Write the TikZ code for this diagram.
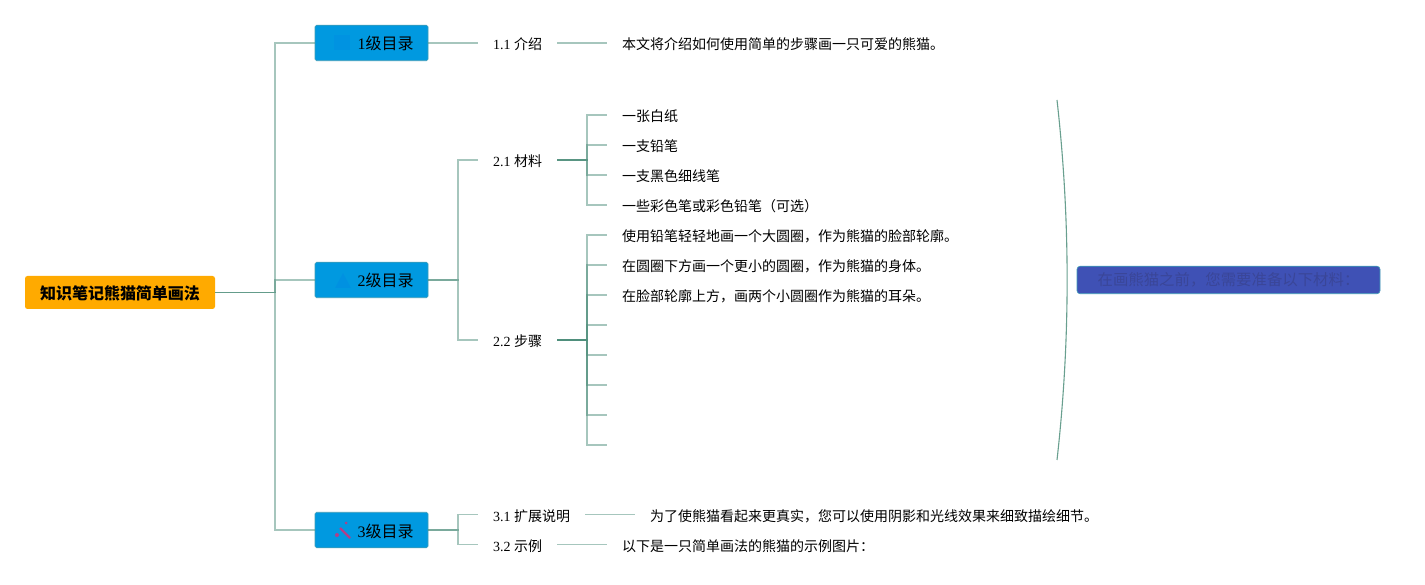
\documentclass[tikz,border=0pt]{standalone}
\usepackage{fontspec}
\usepackage{xcolor}
\usetikzlibrary{calc}
\setmainfont{Liberation Serif}
\newfontfamily\cjk{Noto Sans CJK SC}
\definecolor{sage}{HTML}{4F8F7C}
\definecolor{amber}{HTML}{FFAA00}
\definecolor{azure}{HTML}{0099E0}
\definecolor{azureline}{HTML}{3F9DB8}
\definecolor{indigo}{HTML}{3F51B5}
\definecolor{indigoink}{HTML}{3A4698}
\definecolor{wand}{HTML}{D0307A}
\begin{document}
\begin{tikzpicture}[x=1pt,y=-1pt,
  rootbox/.style={fill=amber,rounded corners=2.5pt,minimum width=190pt,minimum height=33pt,inner sep=0pt,text height=14pt,text depth=0pt,font=\cjk\fontsize{16}{18}\selectfont\bfseries},
  topicbox/.style={fill=azure,draw=azureline,line width=.6pt,rounded corners=1.5pt,minimum width=113pt,minimum height=35.5pt,inner sep=0pt,text height=14pt,text depth=0pt,font=\fontsize{16}{18}\selectfont},
  subtopic/.style={anchor=west,inner xsep=15pt,inner ysep=0pt,text height=15pt,text depth=1pt,font=\fontsize{14}{16}\selectfont},
  leaf/.style={anchor=west,inner xsep=15pt,inner ysep=0pt,text height=15pt,text depth=1pt,font=\cjk\fontsize{14}{16}\selectfont},
  branch/.style={sage,line width=1.4pt,opacity=.5},
  ]
  \useasboundingbox (0,0) rectangle (1425,585);
  \fill[white] (0,0) rectangle (1425,585);

  \coordinate (hubmain) at (275,292.5);
  \coordinate (hubtwo) at (458,280);
  \coordinate (hubthree) at (458,530);
  \coordinate (hubmat) at (587,160);
  \coordinate (hubsteps) at (587,340);

  \node[rootbox] (root) at (120,292.5) {知识笔记熊猫简单画法};
  \node[topicbox] (one) at (371.5,43) {\hspace*{28pt}1{\cjk 级目录}};
  \node[topicbox] (two) at (371.5,280) {\hspace*{28pt}2{\cjk 级目录}};
  \node[topicbox] (three) at (371.5,530) {\hspace*{28pt}3{\cjk 级目录}};

  \fill[blue!60!azure,opacity=.06] (334,35) rectangle (350,50);
  \fill[blue!60!azure,opacity=.08] (343,273) -- (351,288) -- (335,288) -- cycle;
  \draw[wand,line width=2.2pt,opacity=.85] (340,528) -- (350,538);
  \fill[wand,opacity=.85] (337,535) circle (2pt) (346,523) circle (1.5pt);

  \node[subtopic] (intro) at (478,43) {1.1 {\cjk 介绍}};
  \node[subtopic] (mat) at (478,160) {2.1 {\cjk 材料}};
  \node[subtopic] (steps) at (478,340) {2.2 {\cjk 步骤}};
  \node[subtopic] (ext) at (478,514.7) {3.1 {\cjk 扩展说明}};
  \node[subtopic] (demo) at (478,544.7) {3.2 {\cjk 示例}};

  \node[leaf] (introtxt) at (607,43) {本文将介绍如何使用简单的步骤画一只可爱的熊猫。};
  \node[leaf] (paper) at (607,115) {一张白纸};
  \node[leaf] (pencil) at (607,145) {一支铅笔};
  \node[leaf] (liner) at (607,175) {一支黑色细线笔};
  \node[leaf] (colors) at (607,205) {一些彩色笔或彩色铅笔（可选）};
  \node[leaf] (stepa) at (607,235) {使用铅笔轻轻地画一个大圆圈，作为熊猫的脸部轮廓。};
  \node[leaf] (stepb) at (607,265) {在圆圈下方画一个更小的圆圈，作为熊猫的身体。};
  \node[leaf] (stepc) at (607,295) {在脸部轮廓上方，画两个小圆圈作为熊猫的耳朵。};
  \coordinate (stepd) at (607,325);
  \coordinate (stepe) at (607,355);
  \coordinate (stepf) at (607,385);
  \coordinate (stepg) at (607,415);
  \coordinate (steph) at (607,445);
  \node[leaf] (exttxt) at (635,514.7) {为了使熊猫看起来更真实，您可以使用阴影和光线效果来细致描绘细节。};
  \node[leaf] (demotxt) at (607,544.7) {以下是一只简单画法的熊猫的示例图片：};

  \draw[branch] (root.east) -- (hubmain) |- (one.west);
  \draw[branch] (root.east) -- (hubmain) |- (two.west);
  \draw[branch] (root.east) -- (hubmain) |- (three.west);

  \draw[branch] (one.east) -- (intro.west);
  \draw[branch] (intro.east) -- (introtxt.west);

  \draw[branch] (two.east) -- (hubtwo) |- (mat.west);
  \draw[branch] (two.east) -- (hubtwo) |- (steps.west);
  \draw[branch] (three.east) -- (hubthree) |- (ext.west);
  \draw[branch] (three.east) -- (hubthree) |- (demo.west);

  \draw[branch] (mat.east) -- (hubmat) |- (paper.west);
  \draw[branch] (mat.east) -- (hubmat) |- (pencil.west);
  \draw[branch] (mat.east) -- (hubmat) |- (liner.west);
  \draw[branch] (mat.east) -- (hubmat) |- (colors.west);

  \draw[branch] (steps.east) -- (hubsteps) |- (stepa.west);
  \draw[branch] (steps.east) -- (hubsteps) |- (stepb.west);
  \draw[branch] (steps.east) -- (hubsteps) |- (stepc.west);
  \draw[branch] (steps.east) -- (hubsteps) |- (stepd);
  \draw[branch] (steps.east) -- (hubsteps) |- (stepe);
  \draw[branch] (steps.east) -- (hubsteps) |- (stepf);
  \draw[branch] (steps.east) -- (hubsteps) |- (stepg);
  \draw[branch] (steps.east) -- (hubsteps) |- (steph);

  \draw[branch] (ext.east) -- (exttxt.west);
  \draw[branch] (demo.east) -- (demotxt.west);

  \coordinate (bracetop) at (1057,100);
  \coordinate (bracebot) at (1057,460);
  \draw[sage,line width=1.1pt,opacity=.85] (bracetop) .. controls (1070.5,220) and (1070.5,340) .. (bracebot);
  \node[fill=indigo,draw=azureline,line width=.6pt,rounded corners=3pt,minimum width=303pt,minimum height=27.5pt,inner sep=0pt,text=indigoink,font=\cjk\fontsize{15.4}{18}\selectfont] (summary) at (1228.5,280) {在画熊猫之前，您需要准备以下材料：};
\end{tikzpicture}
\end{document}
